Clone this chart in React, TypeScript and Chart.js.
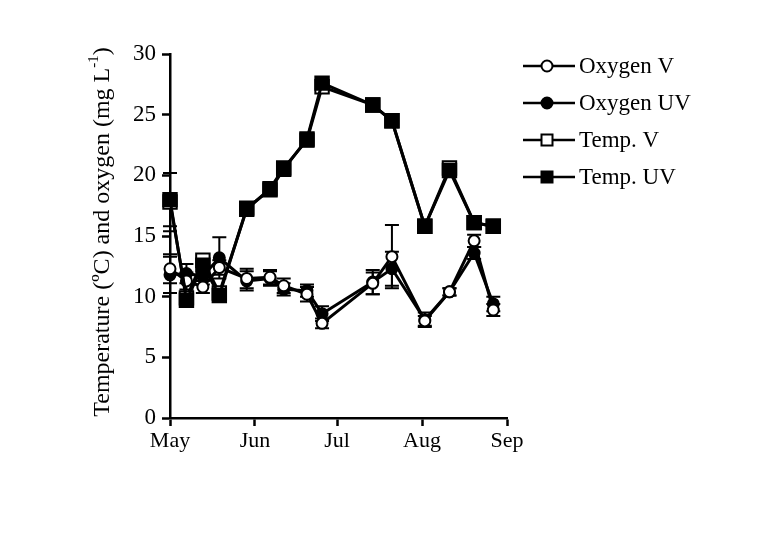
import React, { useEffect, useRef } from 'react';
import { Chart, registerables } from 'chart.js';

Chart.register(...registerables);

const FONT = "'Liberation Serif', 'Times New Roman', serif";

// Sampling days counted from 1 May
const sampleDays = [0, 6, 12, 18, 28, 36.5, 41.5, 50, 55.5, 74, 81, 93, 102, 111, 118];
const monthTickDays = [0, 31, 61, 92, 123];
const monthLabels = ['May', 'Jun', 'Jul', 'Aug', 'Sep'];

const oxygenV = [12.3, 11.3, 10.8, 12.4, 11.5, 11.6, 10.9, 10.2, 7.8, 11.1, 13.3, 8.0, 10.4, 14.6, 8.9];
const oxygenVErr = [1.2, 0.7, 0.5, 0.6, 0.8, 0.6, 0.6, 0.6, 0.4, 0.9, 2.6, 0.4, 0.3, 0.5, 0.5];
const oxygenUV = [11.8, 11.9, 11.7, 13.2, 11.3, 11.5, 10.6, 10.5, 8.6, 11.2, 12.3, 8.1, 10.4, 13.6, 9.4];
const oxygenUVErr = [1.5, 0.8, 0.7, 1.7, 0.8, 0.6, 0.5, 0.5, 0.6, 1.0, 1.4, 0.6, 0.3, 0.5, 0.6];
const tempV = [17.8, 9.9, 13.0, 10.3, 17.2, 18.9, 20.6, 22.9, 27.3, 25.8, 24.5, 15.8, 20.6, 16.1, 15.8];
const tempVErr = [2.4, 0.4, 0.4, 0.4, 0.4, 0.3, 0.4, 0.5, 0.4, 0.3, 0.3, 0.2, 0.4, 0.3, 0.2];
const tempUV = [18.0, 9.7, 12.6, 10.1, 17.3, 18.8, 20.5, 23.0, 27.6, 25.8, 24.5, 15.8, 20.4, 16.1, 15.8];
const tempUVErr = [2.2, 0.4, 0.5, 0.5, 0.4, 0.3, 0.3, 0.4, 0.4, 0.3, 0.3, 0.2, 0.4, 0.3, 0.2];

const seriesNames = ['Oxygen V', 'Oxygen UV', 'Temp. V', 'Temp. UV'];

const toPoints = (vals: number[]) => vals.map((v, i) => ({ x: sampleDays[i], y: v }));

const errorBarPlugin = {
  id: 'errorBars',
  beforeDatasetsDraw(chart: any) {
    const ctx = chart.ctx;
    const xs = chart.scales.x;
    const ys = chart.scales.y;
    ctx.save();
    ctx.strokeStyle = '#000';
    ctx.lineWidth = 2;
    chart.data.datasets.forEach((ds: any) => {
      const errs = ds.errors;
      if (!errs) return;
      ds.data.forEach((p: any, i: number) => {
        const px = xs.getPixelForValue(p.x);
        const top = ys.getPixelForValue(p.y + errs[i]);
        const bot = ys.getPixelForValue(p.y - errs[i]);
        ctx.beginPath();
        ctx.moveTo(px, top);
        ctx.lineTo(px, bot);
        ctx.moveTo(px - 7, top);
        ctx.lineTo(px + 7, top);
        ctx.moveTo(px - 7, bot);
        ctx.lineTo(px + 7, bot);
        ctx.stroke();
      });
    });
    ctx.restore();
  },
};

const drawMarker = (ctx: CanvasRenderingContext2D, kind: number, x: number, y: number) => {
  ctx.save();
  ctx.lineWidth = 2;
  ctx.strokeStyle = '#000';
  if (kind === 0 || kind === 1) {
    ctx.beginPath();
    ctx.arc(x, y, 5.5, 0, Math.PI * 2);
    ctx.fillStyle = kind === 0 ? '#fff' : '#000';
    ctx.fill();
    ctx.stroke();
  } else {
    ctx.beginPath();
    ctx.rect(x - 5.5, y - 5.5, 11, 11);
    ctx.fillStyle = kind === 2 ? '#fff' : '#000';
    ctx.fill();
    ctx.stroke();
  }
  ctx.restore();
};

const legendAndTitlePlugin = {
  id: 'legendAndTitle',
  afterDraw(chart: any) {
    const ctx = chart.ctx as CanvasRenderingContext2D;
    ctx.save();
    // Legend
    const rows = [66, 103, 140, 177];
    seriesNames.forEach((name, i) => {
      const y = rows[i];
      ctx.strokeStyle = '#000';
      ctx.lineWidth = 2.5;
      ctx.beginPath();
      ctx.moveTo(523, y);
      ctx.lineTo(575, y);
      ctx.stroke();
      drawMarker(ctx, i, 547, y);
      ctx.fillStyle = '#000';
      ctx.font = `23px ${FONT}`;
      ctx.textAlign = 'left';
      ctx.textBaseline = 'middle';
      ctx.fillText(name, 579, y + 1);
    });
    // Y axis title
    ctx.translate(101, 232);
    ctx.rotate(-Math.PI / 2);
    const main = 'Temperature (ºC) and oxygen (mg L';
    const sup = '-1';
    const end = ')';
    ctx.font = `24px ${FONT}`;
    const wMain = ctx.measureText(main).width;
    const wEnd = ctx.measureText(end).width;
    ctx.font = `15px ${FONT}`;
    const wSup = ctx.measureText(sup).width;
    const total = wMain + wSup + wEnd;
    let x = -total / 2;
    ctx.textAlign = 'left';
    ctx.textBaseline = 'alphabetic';
    ctx.fillStyle = '#000';
    ctx.font = `24px ${FONT}`;
    ctx.fillText(main, x, 8);
    x += wMain;
    ctx.font = `15px ${FONT}`;
    ctx.fillText(sup, x, -3);
    x += wSup;
    ctx.font = `24px ${FONT}`;
    ctx.fillText(end, x, 8);
    ctx.restore();
  },
};

export default function App() {
  const canvasRef = useRef<HTMLCanvasElement | null>(null);

  useEffect(() => {
    document.body.style.margin = '0';
    const canvas = canvasRef.current;
    if (!canvas) return;
    const common = {
      borderColor: '#000',
      borderWidth: 3,
      pointBorderColor: '#000',
      pointBorderWidth: 2,
      tension: 0,
      clip: false as any,
    };
    const chart = new Chart(canvas, {
      type: 'line',
      data: {
        datasets: [
          {
            ...common,
            label: seriesNames[3],
            data: toPoints(tempUV),
            errors: tempUVErr,
            pointStyle: 'rect',
            pointRadius: 9.5,
            pointBackgroundColor: '#000',
          } as any,
          {
            ...common,
            label: seriesNames[2],
            data: toPoints(tempV),
            errors: tempVErr,
            pointStyle: 'rect',
            pointRadius: 9.5,
            pointBackgroundColor: '#fff',
          } as any,
          {
            ...common,
            label: seriesNames[0],
            data: toPoints(oxygenV),
            errors: oxygenVErr,
            pointStyle: 'circle',
            pointRadius: 5.5,
            pointBackgroundColor: '#fff',
          } as any,
          {
            ...common,
            label: seriesNames[1],
            data: toPoints(oxygenUV),
            errors: oxygenUVErr,
            pointStyle: 'circle',
            pointRadius: 5.5,
            pointBackgroundColor: '#000',
          } as any,
        ],
      },
      options: {
        responsive: false,
        animation: false,
        events: [],
        layout: { padding: { left: 0, top: 54, right: 258, bottom: 0 } },
        plugins: {
          legend: { display: false },
          tooltip: { enabled: false },
        },
        scales: {
          x: {
            type: 'linear',
            min: 0,
            max: 123,
            border: { color: '#000', width: 2.5 },
            grid: {
              display: true,
              drawOnChartArea: false,
              drawTicks: true,
              tickLength: 8,
              tickColor: '#000',
              tickWidth: 2.5,
            },
            ticks: {
              color: '#000',
              font: { family: FONT, size: 22 },
              padding: 2,
              autoSkip: false,
              maxRotation: 0,
              callback: (v: any) => {
                const i = monthTickDays.indexOf(Number(v));
                return i >= 0 ? monthLabels[i] : '';
              },
            },
            afterBuildTicks: (s: any) => {
              s.ticks = monthTickDays.map((v) => ({ value: v }));
            },
            afterFit: (s: any) => {
              s.height = 141;
            },
          },
          y: {
            type: 'linear',
            min: 0,
            max: 30,
            border: { color: '#000', width: 2.5 },
            grid: {
              display: true,
              drawOnChartArea: false,
              drawTicks: true,
              tickLength: 8,
              tickColor: '#000',
              tickWidth: 2.5,
            },
            ticks: {
              stepSize: 5,
              color: '#000',
              font: { family: FONT, size: 23 },
              padding: 6,
            },
            afterFit: (s: any) => {
              s.width = 170;
            },
          },
        },
      } as any,
      plugins: [errorBarPlugin, legendAndTitlePlugin],
    });
    return () => chart.destroy();
  }, []);

  return (
    <div style={{ width: 765, height: 559, background: '#fff' }}>
      <canvas ref={canvasRef} width={765} height={559} style={{ display: 'block' }} />
    </div>
  );
}
